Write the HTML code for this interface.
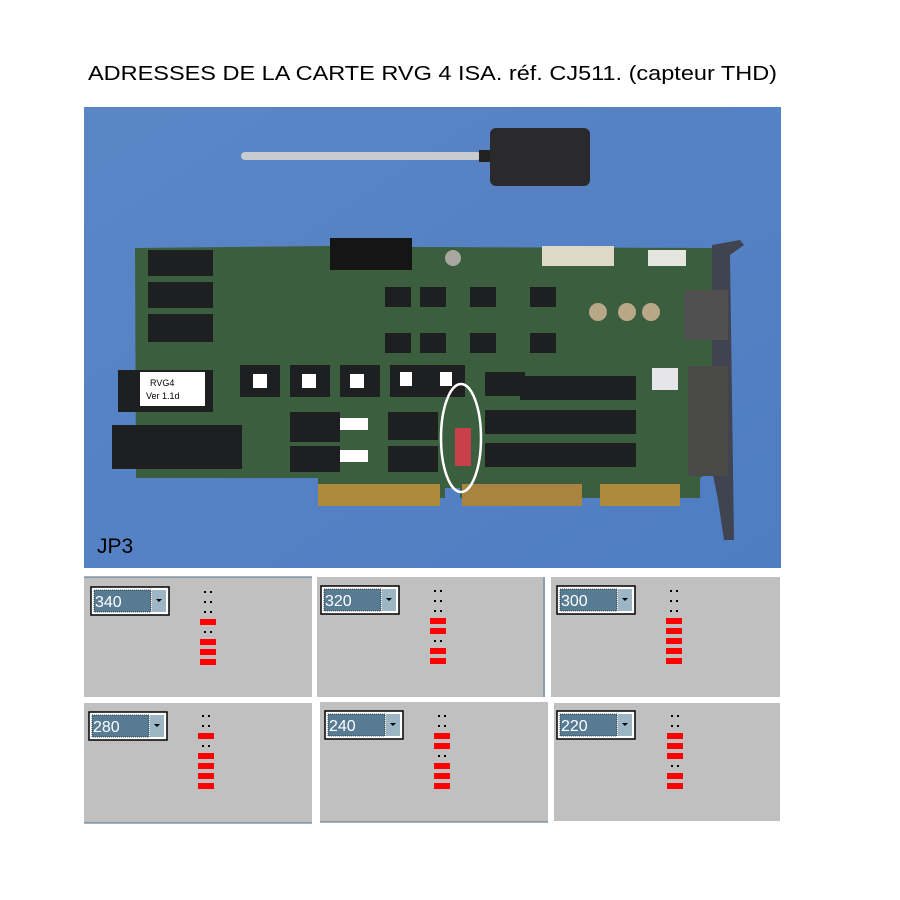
<!DOCTYPE html>
<html><head><meta charset="utf-8"><style>
html,body{margin:0;padding:0;background:#fff;}
svg{display:block;font-family:"Liberation Sans",Arial,sans-serif;}
</style></head><body>
<svg width="900" height="900" viewBox="0 0 900 900" xmlns="http://www.w3.org/2000/svg">
<defs>
<linearGradient id="bg" x1="0" y1="0" x2="1" y2="1">
<stop offset="0" stop-color="#5b86c6"/><stop offset="1" stop-color="#4f7dc2"/>
</linearGradient>
<g id="dd">
<rect x="0" y="0" width="78" height="28" fill="#fff" stroke="#000" stroke-width="1.5"/>
<rect x="3" y="3" width="57" height="22" fill="#587b94" stroke="#222" stroke-dasharray="1 1" stroke-width="0.8"/>
<rect x="61" y="3" width="14" height="22" fill="#9db6c6"/>
<path d="M65 12 h6 l-3 3 z" fill="#000"/>
</g>
<g id="d"><rect x="-4" y="-1" width="2" height="2" fill="#000"/><rect x="2" y="-1" width="2" height="2" fill="#000"/></g>
<rect id="r" x="-8" y="-3" width="16" height="6" fill="#ff0000"/>
</defs>
<rect width="900" height="900" fill="#fff"/>
<text x="88" y="80" font-size="20" textLength="689" lengthAdjust="spacingAndGlyphs" fill="#000">ADRESSES DE LA CARTE RVG 4 ISA. réf. CJ511. (capteur THD)</text>

<!-- photo -->
<rect x="84" y="107" width="697" height="461" fill="url(#bg)"/>
<rect x="241" y="152" width="240" height="8" rx="4" fill="#c8ccd0"/>
<rect x="479" y="150" width="12" height="12" fill="#222"/>
<rect x="490" y="128" width="100" height="58" rx="6" fill="#2a2a2c"/>
<path d="M135 248 L330 246 L330 240 L412 240 L412 247 L712 248 L712 470 L700 478 L700 498 L460 498 L460 488 L445 488 L445 498 L318 498 L318 478 L136 478 Z" fill="#3b5e3e"/>
<rect x="330" y="238" width="82" height="32" fill="#151515"/>
<rect x="318" y="484" width="122" height="22" fill="#b08a3c"/>
<rect x="462" y="484" width="120" height="22" fill="#a88440"/>
<rect x="600" y="484" width="80" height="22" fill="#b08a3c"/>
<g fill="#1d1f20">
<rect x="148" y="250" width="65" height="26"/><rect x="148" y="282" width="65" height="26"/><rect x="148" y="314" width="65" height="28"/>
<rect x="118" y="370" width="95" height="42"/><rect x="112" y="425" width="130" height="44"/>
<rect x="290" y="412" width="50" height="30"/><rect x="290" y="446" width="50" height="26"/>
<rect x="388" y="412" width="50" height="28"/><rect x="388" y="446" width="50" height="26"/>
<rect x="485" y="372" width="40" height="24"/><rect x="520" y="376" width="40" height="24"/><rect x="560" y="376" width="40" height="24"/><rect x="600" y="376" width="36" height="24"/>
<rect x="485" y="410" width="40" height="24"/><rect x="520" y="410" width="40" height="24"/><rect x="560" y="410" width="40" height="24"/><rect x="600" y="410" width="36" height="24"/>
<rect x="485" y="443" width="40" height="24"/><rect x="520" y="443" width="40" height="24"/><rect x="560" y="443" width="40" height="24"/><rect x="600" y="443" width="36" height="24"/>
<rect x="385" y="287" width="26" height="20"/><rect x="420" y="287" width="26" height="20"/><rect x="470" y="287" width="26" height="20"/><rect x="530" y="287" width="26" height="20"/>
<rect x="385" y="333" width="26" height="20"/><rect x="420" y="333" width="26" height="20"/><rect x="470" y="333" width="26" height="20"/><rect x="530" y="333" width="26" height="20"/>
<rect x="240" y="365" width="40" height="32"/><rect x="290" y="365" width="40" height="32"/><rect x="340" y="365" width="40" height="32"/><rect x="390" y="365" width="40" height="32"/><rect x="430" y="365" width="35" height="32"/>
</g>
<rect x="140" y="372" width="65" height="34" fill="#fff"/>
<text x="150" y="386" font-size="9" fill="#000">RVG4</text>
<text x="146" y="399" font-size="9" fill="#000">Ver 1.1d</text>
<rect x="340" y="418" width="28" height="12" fill="#fff"/><rect x="340" y="450" width="28" height="12" fill="#fff"/>
<g fill="#fff"><rect x="253" y="374" width="14" height="14"/><rect x="302" y="374" width="14" height="14"/><rect x="350" y="374" width="14" height="14"/><rect x="400" y="372" width="12" height="14"/><rect x="440" y="372" width="12" height="14"/></g>
<rect x="542" y="246" width="72" height="20" fill="#ddd8c8"/>
<rect x="648" y="250" width="38" height="16" fill="#e6e6e0"/>
<circle cx="598" cy="312" r="9" fill="#b8a888"/><circle cx="627" cy="312" r="9" fill="#b8a888"/><circle cx="651" cy="312" r="9" fill="#b8a888"/>
<circle cx="453" cy="258" r="8" fill="#a8a8a0"/>
<rect x="652" y="368" width="26" height="22" fill="#e6e6ea"/>
<rect x="455" y="428" width="16" height="38" fill="#c8404a"/>
<path d="M712 245 L740 240 L744 245 L730 255 L734 540 L724 540 L718 500 L712 470 Z" fill="#404450"/>
<rect x="684" y="290" width="44" height="50" fill="#505050"/>
<rect x="688" y="366" width="40" height="110" fill="#4a4a48"/>
<ellipse cx="461" cy="438" rx="20" ry="54" fill="none" stroke="#fff" stroke-width="2.5"/>
<text x="97" y="553" font-size="21" fill="#000">JP3</text>

<!-- panels -->
<g fill="#c0c0c0">
<rect x="84" y="577" width="228" height="120"/><rect x="317" y="577" width="228" height="120"/><rect x="551" y="577" width="229" height="120"/>
<rect x="84" y="703" width="228" height="120"/><rect x="320" y="702" width="228" height="120"/><rect x="554" y="703" width="226" height="118"/>
</g>
<g stroke="#6a8498" stroke-width="1.2">
<line x1="84" y1="577" x2="312" y2="577"/><line x1="544" y1="577" x2="544" y2="697"/>
<line x1="84" y1="823" x2="312" y2="823"/><line x1="320" y1="822" x2="548" y2="822"/>
</g>
<use href="#dd" x="91" y="587"/><use href="#dd" x="321" y="586"/><use href="#dd" x="557" y="586"/>
<use href="#dd" x="89" y="712"/><use href="#dd" x="325" y="711"/><use href="#dd" x="557" y="711"/>
<g fill="#fff" font-size="16">
<text x="95" y="607">340</text><text x="325" y="606">320</text><text x="561" y="606">300</text>
<text x="93" y="732">280</text><text x="329" y="731">240</text><text x="561" y="731">220</text>
</g>

<!-- jumpers -->
<use href="#d" x="208" y="592"/><use href="#d" x="208" y="602"/><use href="#d" x="208" y="612"/><use href="#r" x="208" y="622"/><use href="#d" x="208" y="632"/><use href="#r" x="208" y="642"/><use href="#r" x="208" y="652"/><use href="#r" x="208" y="662"/>
<use href="#d" x="438" y="591"/><use href="#d" x="438" y="601"/><use href="#d" x="438" y="611"/><use href="#r" x="438" y="621"/><use href="#r" x="438" y="631"/><use href="#d" x="438" y="641"/><use href="#r" x="438" y="651"/><use href="#r" x="438" y="661"/>
<use href="#d" x="674" y="591"/><use href="#d" x="674" y="601"/><use href="#d" x="674" y="611"/><use href="#r" x="674" y="621"/><use href="#r" x="674" y="631"/><use href="#r" x="674" y="641"/><use href="#r" x="674" y="651"/><use href="#r" x="674" y="661"/>
<use href="#d" x="206" y="716"/><use href="#d" x="206" y="726"/><use href="#r" x="206" y="736"/><use href="#d" x="206" y="746"/><use href="#r" x="206" y="756"/><use href="#r" x="206" y="766"/><use href="#r" x="206" y="776"/><use href="#r" x="206" y="786"/>
<use href="#d" x="442" y="716"/><use href="#d" x="442" y="726"/><use href="#r" x="442" y="736"/><use href="#r" x="442" y="746"/><use href="#d" x="442" y="756"/><use href="#r" x="442" y="766"/><use href="#r" x="442" y="776"/><use href="#r" x="442" y="786"/>
<use href="#d" x="675" y="716"/><use href="#d" x="675" y="726"/><use href="#r" x="675" y="736"/><use href="#r" x="675" y="746"/><use href="#r" x="675" y="756"/><use href="#d" x="675" y="766"/><use href="#r" x="675" y="776"/><use href="#r" x="675" y="786"/>
</svg>
</body></html>
